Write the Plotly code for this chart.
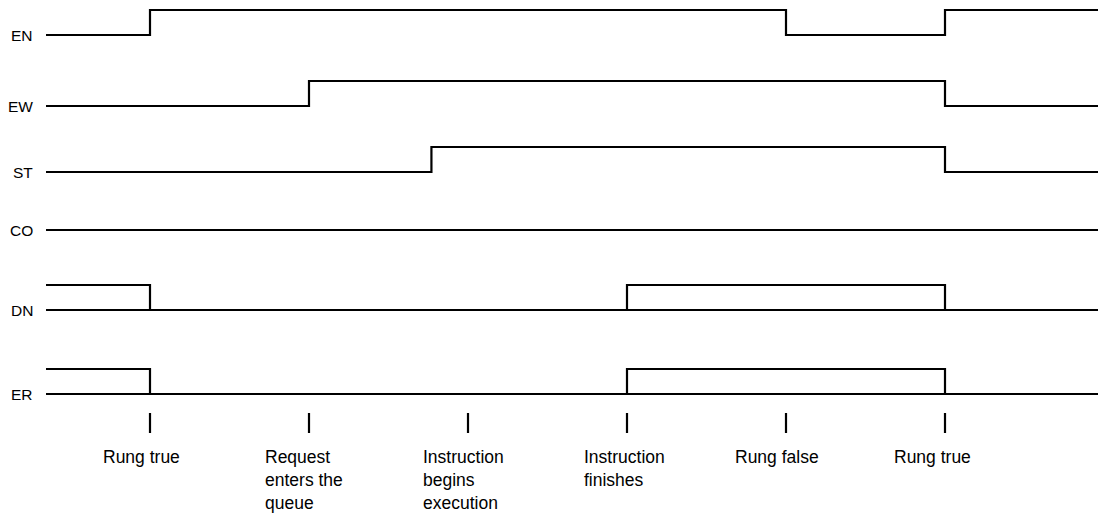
import plotly.graph_objects as go

# signal names and their waveforms (time in event units, 1..6 = marked events)
signals = ["EN", "EW", "ST", "CO", "DN", "ER"]
start_level = [0, 0, 0, 0, 1, 1]
edges = [
    [1, 5, 6],
    [2, 6],
    [2.77, 6],
    [],
    [1, 4, 6],
    [1, 4, 6],
]
show_baseline = [False, False, False, False, True, True]

event_times = [1, 2, 3, 4, 5, 6]
event_labels = [
    "Rung true",
    "Request<br>enters the<br>queue",
    "Instruction<br>begins<br>execution",
    "Instruction<br>finishes",
    "Rung false",
    "Rung true",
]

t_start, t_end = 0.346, 6.99

# layout helpers (page pixel rows for each lane's low level)
lane_base = [35, 106, 172, 230, 310, 394]
high_step = 25
px_per_t = 159
x0_px = 150          # page x of event 1
page_off = 8         # default body margin of the html page
label_dx = [-49, -46, -47, -45, -53, -53]

FONT = "Liberation Sans, Arial, sans-serif"
FS = 17.5

fig = go.Figure()

for name, lvl0, eds, base, bl in zip(signals, start_level, edges, lane_base, show_baseline):
    xs = [t_start]
    lv = [lvl0]
    cur = lvl0
    for e in eds:
        cur = 1 - cur
        xs.append(e)
        lv.append(cur)
    xs.append(t_end)
    lv.append(cur)
    ys = [base - l * high_step for l in lv]
    if bl:
        fig.add_scatter(x=[t_start, t_end], y=[base, base], mode="lines",
                        line=dict(color="black", width=2.2), hoverinfo="skip")
    fig.add_scatter(x=xs, y=ys, mode="lines", line_shape="hv",
                    line=dict(color="black", width=2.2), hoverinfo="skip")
    fig.add_annotation(x=t_start, y=base, text=name, showarrow=False,
                       xanchor="right", yanchor="middle", xshift=-11,
                       font=dict(family=FONT, size=15.5, color="black"))

# event tick marks
tx, ty = [], []
for t in event_times:
    tx += [t, t, None]
    ty += [413, 433, None]
fig.add_scatter(x=tx, y=ty, mode="lines", line=dict(color="black", width=2.2),
                hoverinfo="skip")

for t, lab, dx in zip(event_times, event_labels, label_dx):
    fig.add_annotation(x=t, y=445, text=lab, showarrow=False, align="left",
                       xanchor="left", yanchor="top", xshift=dx,
                       font=dict(family=FONT, size=FS, color="black"))

W, H = 1106, 513
fig.update_layout(
    width=W, height=H,
    margin=dict(l=0, r=0, t=0, b=0),
    paper_bgcolor="white", plot_bgcolor="white",
    showlegend=False,
    xaxis=dict(range=[1 + (page_off - x0_px) / px_per_t,
                      1 + (page_off + W - x0_px) / px_per_t],
               visible=False, fixedrange=True),
    yaxis=dict(range=[page_off + H, page_off], visible=False, fixedrange=True),
)

fig.write_html("out.html")
